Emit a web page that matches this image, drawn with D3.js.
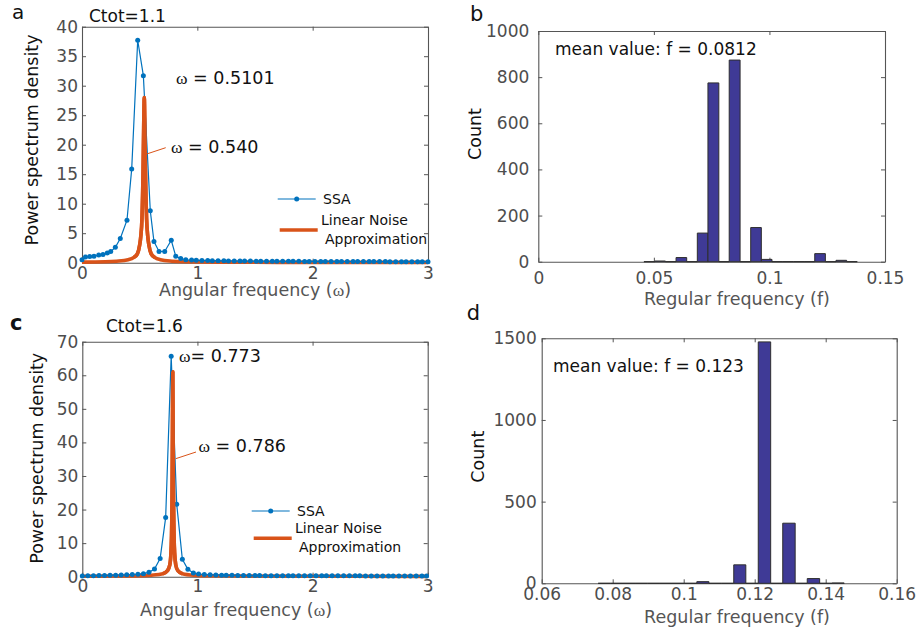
<!DOCTYPE html>
<html>
<head>
<meta charset="utf-8">
<script src="https://cdn.jsdelivr.net/npm/d3@7"></script>
<style>
  body { margin: 0; background: #fff; }
  svg { display: block; font-family: "DejaVu Sans", sans-serif; }
</style>
</head>
<body>
<svg id="fig" width="918" height="635"></svg>
<script>
// ---- panel a : Ctot = 1.1 ----
const ssaOmegaA = [0, 0.03, 0.067, 0.104, 0.145, 0.182, 0.219, 0.249, 0.289, 0.332,
  0.39, 0.431, 0.483, 0.532, 0.592, 0.624, 0.668, 0.717, 0.774, 0.813, 0.856,
  0.90, 0.95, 0.99, 1.04, 1.09, 1.13, 1.18, 1.23, 1.27, 1.32,
  1.37, 1.41, 1.46, 1.51, 1.55, 1.6, 1.65, 1.69, 1.74, 1.79,
  1.83, 1.88, 1.93, 1.97, 2.02, 2.07, 2.11, 2.16, 2.21, 2.25,
  2.3, 2.35, 2.39, 2.44, 2.49, 2.53, 2.58, 2.63, 2.67, 2.72,
  2.77, 2.81, 2.86, 2.91, 2.95, 3.0];
const ssaPsdA = [0.5, 0.95, 1.05, 1.1, 1.3, 1.4, 1.65, 1.9, 2.6, 4.1,
  7.2, 15.9, 37.7, 31.7, 8.8, 3.6, 1.9, 1.9, 3.8, 1.1, 0.7,
  0.5, 0.45, 0.4, 0.38, 0.36, 0.34, 0.32, 0.31, 0.3, 0.29,
  0.28, 0.27, 0.27, 0.26, 0.26, 0.25, 0.25, 0.24, 0.24, 0.23,
  0.23, 0.23, 0.22, 0.22, 0.22, 0.21, 0.21, 0.21, 0.2, 0.2,
  0.2, 0.2, 0.2, 0.19, 0.19, 0.19, 0.19, 0.19, 0.18, 0.18,
  0.18, 0.18, 0.18, 0.18, 0.18, 0.18];
const lnaOmegaA = [0, 0.2, 0.3, 0.4, 0.45, 0.48, 0.5, 0.51, 0.52, 0.53, 0.535, 0.54,
  0.545, 0.55, 0.56, 0.57, 0.58, 0.6, 0.63, 0.68, 0.78, 0.9, 1.2, 2, 3];
const lnaPsdA = [0.1, 0.15, 0.25, 0.5, 0.9, 1.5, 3, 4.5, 7.5, 16, 23, 28,
  23, 16, 7.5, 4.5, 3, 1.5, 0.9, 0.5, 0.25, 0.15, 0.1, 0.05, 0.05];

// ---- panel c : Ctot = 1.6 ----
const ssaOmegaC = [0, 0.048, 0.097, 0.145, 0.193, 0.241, 0.29, 0.338, 0.386, 0.434,
  0.483, 0.531, 0.579, 0.627, 0.676, 0.724, 0.772, 0.82, 0.869, 0.917, 0.965,
  1.01, 1.06, 1.11, 1.16, 1.21, 1.25, 1.3, 1.35, 1.4, 1.45,
  1.5, 1.54, 1.59, 1.64, 1.69, 1.74, 1.79, 1.83, 1.88, 1.93,
  1.98, 2.03, 2.08, 2.12, 2.17, 2.22, 2.27, 2.32, 2.37, 2.41,
  2.46, 2.51, 2.56, 2.61, 2.66, 2.7, 2.75, 2.8, 2.85, 2.9,
  2.95, 2.99];
const ssaPsdC = [0.2, 0.3, 0.3, 0.35, 0.35, 0.4, 0.45, 0.5, 0.55, 0.65,
  0.75, 0.9, 1.3, 2.3, 5.4, 17.6, 65.7, 21.6, 5.2, 2.2, 1.1,
  0.8, 0.65, 0.55, 0.5, 0.45, 0.42, 0.4, 0.38, 0.36, 0.35,
  0.34, 0.33, 0.32, 0.31, 0.3, 0.3, 0.29, 0.29, 0.28, 0.28,
  0.27, 0.27, 0.27, 0.26, 0.26, 0.26, 0.25, 0.25, 0.25, 0.25,
  0.24, 0.24, 0.24, 0.24, 0.24, 0.23, 0.23, 0.23, 0.23, 0.23,
  0.23, 0.23];
const lnaOmegaC = [0, 0.3, 0.5, 0.6, 0.7, 0.74, 0.76, 0.77, 0.775, 0.78, 0.783, 0.786,
  0.789, 0.792, 0.797, 0.802, 0.812, 0.83, 0.87, 0.97, 1.1, 1.5, 3];
const lnaPsdC = [0.15, 0.2, 0.3, 0.45, 0.9, 1.8, 3.5, 7, 12, 25, 42, 61,
  42, 25, 12, 7, 3.5, 1.8, 0.9, 0.45, 0.3, 0.2, 0.1];

// ---- panel b histogram ----
const binEdgesB = [0.0457, 0.0504, 0.0550, 0.0596, 0.0642, 0.0688, 0.0734, 0.0781, 0.0826,
  0.0873, 0.0919, 0.0965, 0.1011, 0.1058, 0.1103, 0.1150, 0.1196, 0.1242, 0.1288, 0.1334, 0.1380];
const countsB = [0, 3, 0, 18, 0, 124, 775, 0, 874, 0, 148, 10, 0, 0, 0, 0, 35, 0, 6, 0];

// ---- panel d histogram ----
const binEdgesD = [0.0759, 0.0794, 0.0829, 0.0863, 0.0898, 0.0933, 0.0967, 0.1002, 0.1037,
  0.1071, 0.1106, 0.1141, 0.1175, 0.1210, 0.1245, 0.1279, 0.1314, 0.1348, 0.1383, 0.1418, 0.1452];
const countsD = [0, 0, 0, 0, 0, 0, 0, 0, 10, 0, 0, 113, 0, 1478, 0, 368, 0, 29, 0, 2];

// tick values
const ticksOmega = [0, 1, 2, 3];
const ticksPsdA = [0, 5, 10, 15, 20, 25, 30, 35, 40];
const ticksPsdC = [0, 10, 20, 30, 40, 50, 60, 70];
const ticksFreqB = [0, 0.05, 0.1, 0.15];
const ticksCountB = [0, 200, 400, 600, 800, 1000];
const ticksFreqD = [0.06, 0.08, 0.1, 0.12, 0.14, 0.16];
const ticksCountD = [0, 500, 1000, 1500];

const blue = '#0072bd';
const orange = '#d95319';
const barFill = '#3f3a96';
const tickGray = '#4d4d4d';

const svg = d3.select('#fig');

// axes box with inward ticks on all sides, matlab style
function drawFrame(box, xDomain, yDomain, xTicks, yTicks, padX, padY) {
  const x = d3.scaleLinear().domain(xDomain).range([box.left, box.right]);
  const y = d3.scaleLinear().domain(yDomain).range([box.bottom, box.top]);
  const fmt = d => String(d);
  const g = svg.append('g');

  g.append('g').attr('transform', `translate(0,${box.bottom})`)
    .call(d3.axisBottom(x).tickValues(xTicks).tickFormat(fmt).tickSizeInner(-4).tickSizeOuter(0).tickPadding(padX));
  g.append('g').attr('transform', `translate(0,${box.top})`)
    .call(d3.axisTop(x).tickValues(xTicks).tickFormat('').tickSizeInner(-4).tickSizeOuter(0));
  g.append('g').attr('transform', `translate(${box.left},0)`)
    .call(d3.axisLeft(y).tickValues(yTicks).tickFormat(fmt).tickSizeInner(-4).tickSizeOuter(0).tickPadding(padY));
  g.append('g').attr('transform', `translate(${box.right},0)`)
    .call(d3.axisRight(y).tickValues(yTicks).tickFormat('').tickSizeInner(-4).tickSizeOuter(0));

  g.selectAll('.domain').attr('stroke', '#555').attr('stroke-width', 1.1);
  g.selectAll('.tick line').attr('stroke', '#555');
  g.selectAll('.tick text')
    .attr('font-family', '"DejaVu Sans", sans-serif')
    .attr('font-size', 17)
    .attr('fill', tickGray);
  return { x, y };
}

function label(x, y, str, opts = {}) {
  const t = svg.append('text')
    .attr('x', x).attr('y', y)
    .attr('font-size', opts.size || 17)
    .attr('fill', opts.fill || '#111')
    .attr('text-anchor', opts.anchor || 'start')
    .attr('font-weight', opts.weight || 'normal');
  if (opts.rotate) t.attr('transform', `rotate(-90,${x},${y})`);
  // omega glyph in serif like the original
  const parts = str.split('ω');
  parts.forEach((p, i) => {
    if (i > 0) t.append('tspan').attr('font-family', '"Liberation Serif", serif').text('ω');
    if (p) t.append('tspan').text(p);
  });
  return t;
}

function drawSpectrum(sc, ssaW, ssaP, lnaW, lnaP) {
  const ssa = d3.zip(ssaW, ssaP);
  const lna = d3.zip(lnaW, lnaP);
  const lnaLine = d3.line().x(d => sc.x(d[0])).y(d => sc.y(d[1])).curve(d3.curveMonotoneX);
  svg.append('path')
    .datum(lna)
    .attr('fill', 'none')
    .attr('stroke', orange)
    .attr('stroke-width', 3.6)
    .attr('stroke-linejoin', 'round')
    .attr('d', lnaLine);
  svg.append('path')
    .datum(ssa)
    .attr('fill', 'none')
    .attr('stroke', blue)
    .attr('stroke-width', 1.2)
    .attr('d', d3.line().x(d => sc.x(d[0])).y(d => sc.y(d[1])));
  svg.append('g').selectAll('circle')
    .data(ssa)
    .join('circle')
    .attr('cx', d => sc.x(d[0]))
    .attr('cy', d => sc.y(d[1]))
    .attr('r', 2.5)
    .attr('fill', blue);
  // orange peak sits on top of the blue markers
  svg.append('path')
    .datum(lna.filter(d => d[1] > 0.8))
    .attr('fill', 'none')
    .attr('stroke', orange)
    .attr('stroke-width', 3.6)
    .attr('stroke-linejoin', 'round')
    .attr('d', lnaLine);
}

function drawLegend(x, ySsa, yLna, textX) {
  svg.append('line').attr('x1', x).attr('x2', x + 38).attr('y1', ySsa).attr('y2', ySsa)
    .attr('stroke', blue).attr('stroke-width', 1.2);
  svg.append('circle').attr('cx', x + 19).attr('cy', ySsa).attr('r', 2.5).attr('fill', blue);
  label(textX, ySsa + 5, 'SSA', { size: 14 });
  svg.append('line').attr('x1', x + 2).attr('x2', x + 40).attr('y1', yLna).attr('y2', yLna)
    .attr('stroke', orange).attr('stroke-width', 3.6);
  label(textX - 2, yLna - 5, 'Linear Noise', { size: 14 });
  label(textX + 2, yLna + 14, 'Approximation', { size: 14 });
}

function drawHist(sc, edges, counts) {
  const bins = counts.map((c, i) => ({ x0: edges[i], x1: edges[i + 1], n: c }));
  svg.append('g').selectAll('path')
    .data(bins)
    .join('path')
    .attr('d', d => `M${sc.x(d.x0)},${sc.y(0)}V${sc.y(d.n)}H${sc.x(d.x1)}V${sc.y(0)}Z`)
    .attr('fill', barFill)
    .attr('stroke', '#2e2e2e')
    .attr('stroke-width', 1);
}

// ---------- panel a ----------
const scA = drawFrame({ left: 82, right: 428, top: 26.7, bottom: 262.7 }, [0, 3], [0, 40], ticksOmega, ticksPsdA, 4, 4);
drawSpectrum(scA, ssaOmegaA, ssaPsdA, lnaOmegaA, lnaPsdA);
svg.append('line').attr('x1', 146.7).attr('y1', 154).attr('x2', 165.7).attr('y2', 147.7)
  .attr('stroke', orange).attr('stroke-width', 1);
label(176, 84.3, 'ω = 0.5101', { size: 17.5 });
label(171, 152.7, 'ω = 0.540', { size: 17.5 });
drawLegend(277.7, 199, 230, 323);
label(89, 21.7, 'Ctot=1.1', { size: 17 });
label(12, 19, 'a', { size: 20 });
label(255, 296, 'Angular frequency (ω)', { size: 17.5, anchor: 'middle', fill: '#555' });
label(38, 140, 'Power spectrum density', { size: 17.5, anchor: 'middle', rotate: true });

// ---------- panel b ----------
const scB = drawFrame({ left: 538.3, right: 885, top: 31, bottom: 261.7 }, [0, 0.15], [0, 1000], ticksFreqB, ticksCountB, 10, 9);
drawHist(scB, binEdgesB, countsB);
label(555, 55, 'mean value: f = 0.0812', { size: 17 });
label(470, 21, 'b', { size: 21 });
label(737, 305, 'Regular frequency (f)', { size: 17.5, anchor: 'middle', fill: '#555' });
label(481, 134, 'Count', { size: 17.5, anchor: 'middle', rotate: true });

// ---------- panel c ----------
const scC = drawFrame({ left: 82.3, right: 427.7, top: 341.7, bottom: 576.7 }, [0, 3], [0, 70], ticksOmega, ticksPsdC, 3, 4);
drawSpectrum(scC, ssaOmegaC, ssaPsdC, lnaOmegaC, lnaPsdC);
svg.append('line').attr('x1', 175.7).attr('y1', 458.7).attr('x2', 196).attr('y2', 452)
  .attr('stroke', orange).attr('stroke-width', 1);
label(179, 361.7, 'ω= 0.773', { size: 17.5 });
label(198.5, 451.7, 'ω = 0.786', { size: 17.5 });
drawLegend(251.7, 511, 538.3, 297);
label(106, 331.7, 'Ctot=1.6', { size: 17 });
label(10, 330, 'c', { size: 21, weight: 'bold' });
label(236, 616, 'Angular frequency (ω)', { size: 17.5, anchor: 'middle', fill: '#555' });
label(43, 458.3, 'Power spectrum density', { size: 17.5, anchor: 'middle', rotate: true });

// ---------- panel d ----------
const scD = drawFrame({ left: 541.7, right: 896.7, top: 338.3, bottom: 583.3 }, [0.06, 0.16], [0, 1500], ticksFreqD, ticksCountD, 5, 5);
drawHist(scD, binEdgesD, countsD);
label(553, 372, 'mean value: f = 0.123', { size: 17 });
label(466.7, 320, 'd', { size: 21 });
label(737, 623, 'Regular frequency (f)', { size: 17.5, anchor: 'middle', fill: '#555' });
label(484.5, 456.7, 'Count', { size: 17.5, anchor: 'middle', rotate: true });
</script>
</body>
</html>
